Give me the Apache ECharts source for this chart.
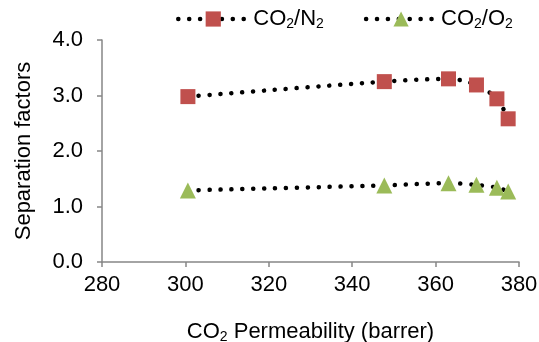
<!DOCTYPE html>
<html>
<head>
<meta charset="utf-8">
<script src="https://cdn.jsdelivr.net/npm/echarts@6/dist/echarts.min.js"></script>
<style>
  html, body { margin: 0; padding: 0; background: #fff; }
  #main { width: 539px; height: 342px; }
</style>
</head>
<body>
<div id="main"></div>
<script>
// CO2 permeability (barrer) for each membrane sample
const permeability = [300.6, 347.7, 363.1, 369.8, 374.7, 377.4];
// separation factors
const co2n2 = [2.98, 3.25, 3.30, 3.19, 2.94, 2.58];
const co2o2 = [1.29, 1.38, 1.42, 1.39, 1.34, 1.27];
const xTicks = [280, 300, 320, 340, 360, 380];
const yTicks = [0, 1, 2, 3, 4];

const chartDom = document.getElementById("main");
const myChart = echarts.init(chartDom);

const font = "Liberation Sans, Arial, sans-serif";
const axisColor = "#868686";
const rich = {
  a: { fontSize: 22, fontFamily: font, color: "#000" },
  s: { fontSize: 14, fontFamily: font, color: "#000", padding: [10, 0, 0, 0] },
};

const dotted = { color: "#000", width: 4.5, type: [0.1, 10.8], cap: "round" };

const option = {
  animation: false,
  grid: { left: 102, right: 20, top: 40, bottom: 80, outerBoundsMode: "none", containLabel: false },
  legend: {
    top: 3,
    left: 171,
    itemWidth: 70,
    itemHeight: 19,
    itemGap: 40,
    lineStyle: { width: 4.5, type: [0.1, 10.8], cap: "round", color: "#000" },
    textStyle: { rich: rich },
    formatter: (name) =>
      name === "CO2/N2" ? "{a|CO}{s|2}{a|/N}{s|2}" : "{a|CO}{s|2}{a|/O}{s|2}",
  },
  xAxis: {
    type: "value",
    min: xTicks[0],
    max: xTicks[xTicks.length - 1],
    interval: 20,
    name: "{a|CO}{s|2}{a| Permeability (barrer)}",
    nameLocation: "middle",
    nameGap: 58,
    nameTextStyle: { rich: rich },
    axisLine: { show: true, lineStyle: { color: axisColor, width: 1.5 } },
    axisTick: { show: true, length: 5, lineStyle: { color: axisColor, width: 1.5 } },
    axisLabel: { fontSize: 22, fontFamily: font, color: "#000", margin: 12 },
    splitLine: { show: false },
  },
  yAxis: {
    type: "value",
    min: yTicks[0],
    max: yTicks[yTicks.length - 1],
    interval: 1,
    name: "Separation factors",
    nameLocation: "middle",
    nameGap: 67,
    nameTextStyle: { fontSize: 22, fontFamily: font, color: "#000" },
    axisLine: { show: true, lineStyle: { color: axisColor, width: 1.5 } },
    axisTick: { show: true, length: 5, lineStyle: { color: axisColor, width: 1.5 } },
    axisLabel: {
      fontSize: 22,
      fontFamily: font,
      color: "#000",
      margin: 19,
      formatter: (v) => v.toFixed(1),
    },
    splitLine: { show: false },
  },
  series: [
    {
      name: "CO2/N2",
      type: "line",
      smooth: 0.3,
      data: permeability.map((x, i) => [x, co2n2[i]]),
      symbol: "rect",
      symbolSize: 15,
      itemStyle: { color: "#C0504D" },
      lineStyle: dotted,
    },
    {
      name: "CO2/O2",
      type: "line",
      smooth: 0.3,
      data: permeability.map((x, i) => [x, co2o2[i]]),
      symbol: "triangle",
      symbolSize: 16,
      itemStyle: { color: "#9BBB59" },
      lineStyle: dotted,
    },
  ],
};

option && myChart.setOption(option);
</script>
</body>
</html>
